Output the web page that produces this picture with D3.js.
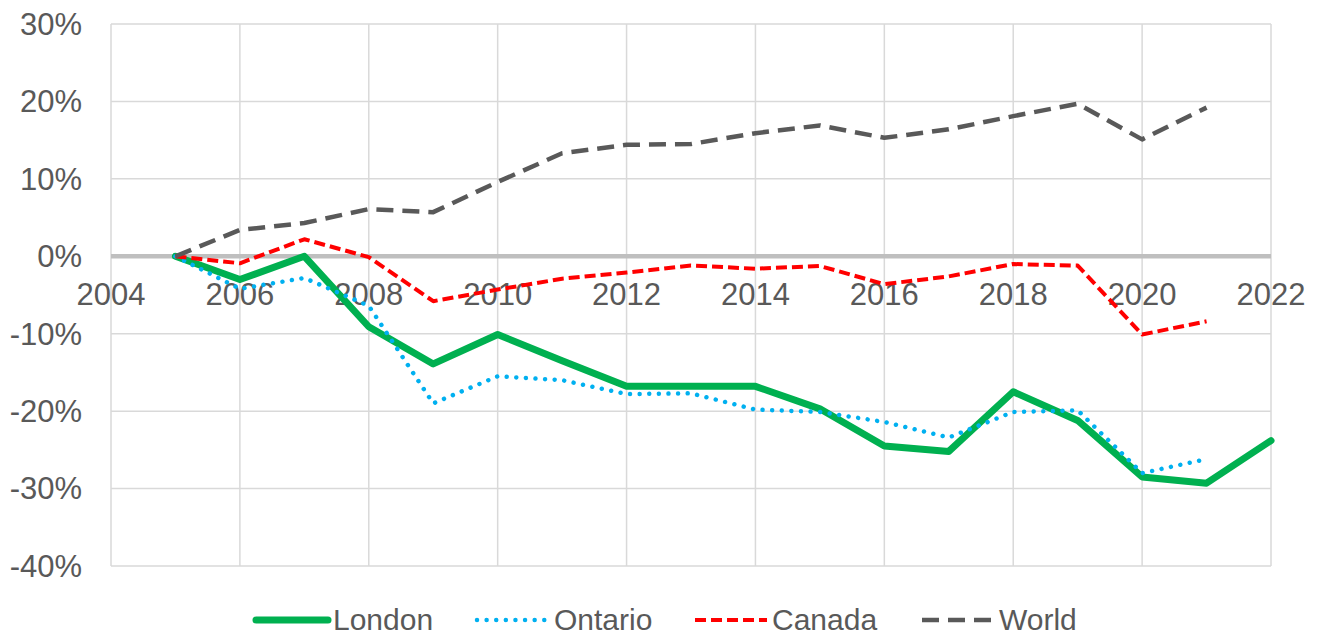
<!DOCTYPE html>
<html>
<head>
<meta charset="utf-8">
<script src="https://cdn.jsdelivr.net/npm/d3@7"></script>
<style>
  body { margin: 0; background: #fff; }
  text { font-family: "Liberation Sans", Arial, sans-serif; fill: #595959; }
</style>
</head>
<body>
<div id="chart"></div>
<script>
// yearly change vs 2005
const years = [2005, 2006, 2007, 2008, 2009, 2010, 2011, 2012, 2013, 2014, 2015, 2016, 2017, 2018, 2019, 2020, 2021, 2022];
const london  = [0, -3.0, 0, -9.1, -13.9, -10.1, -13.5, -16.8, -16.8, -16.8, -19.7, -24.5, -25.2, -17.5, -21.2, -28.5, -29.3, -23.8];
const ontario = [0, -4.2, -2.8, -6.4, -19.0, -15.5, -16.0, -17.8, -17.7, -19.8, -20.1, -21.4, -23.4, -20.1, -19.9, -28.0, -26.2];
const canada  = [0, -0.9, 2.2, -0.1, -5.8, -4.3, -2.9, -2.1, -1.2, -1.6, -1.25, -3.6, -2.6, -1.0, -1.2, -10.1, -8.4];
const world   = [0, 3.4, 4.3, 6.1, 5.7, 9.6, 13.3, 14.4, 14.5, 15.9, 16.9, 15.3, 16.4, 18.1, 19.7, 15.1, 19.2];

const xTicks = [2004, 2006, 2008, 2010, 2012, 2014, 2016, 2018, 2020, 2022];
const yTicks = [30, 20, 10, 0, -10, -20, -30, -40];

const series = [
  { name: "London",  values: london,  color: "#00B050", width: 7,   dash: null,       cap: "round" },
  { name: "Ontario", values: ontario, color: "#00B0F0", width: 4.5, dash: "0.01,9.6", cap: "round" },
  { name: "Canada",  values: canada,  color: "#FF0000", width: 4,   dash: "11,5",     cap: "butt" },
  { name: "World",   values: world,   color: "#595959", width: 4.5, dash: "17,9",     cap: "butt" }
];

const W = 1319, H = 637;
const svg = d3.select("#chart").append("svg").attr("width", W).attr("height", H);

const x = d3.scaleLinear().domain([2004, 2022]).range([111, 1271]);
const y = d3.scaleLinear().domain([-40, 30]).range([566, 24]);

// gridlines
svg.append("g").selectAll("line").data(yTicks).join("line")
  .attr("x1", x(2004)).attr("x2", x(2022))
  .attr("y1", d => y(d)).attr("y2", d => y(d))
  .attr("stroke", "#D9D9D9").attr("stroke-width", 1.5);

svg.append("g").selectAll("line").data(xTicks).join("line")
  .attr("x1", d => x(d)).attr("x2", d => x(d))
  .attr("y1", y(30)).attr("y2", y(-40))
  .attr("stroke", "#D9D9D9").attr("stroke-width", 1.5);

// zero axis line
svg.append("line")
  .attr("x1", x(2004)).attr("x2", x(2022))
  .attr("y1", y(0)).attr("y2", y(0))
  .attr("stroke", "#BFBFBF").attr("stroke-width", 4.5);

// y labels
svg.append("g").selectAll("text").data(yTicks).join("text")
  .attr("x", 82).attr("y", d => y(d))
  .attr("dy", "0.35em")
  .attr("text-anchor", "end")
  .attr("font-size", 31)
  .text(d => d + "%");

// x labels sit under the zero line
svg.append("g").selectAll("text").data(xTicks).join("text")
  .attr("x", d => x(d)).attr("y", y(0) + 49)
  .attr("text-anchor", "middle")
  .attr("font-size", 31)
  .text(d => d);

const line = d3.line()
  .x((d, i) => x(years[i]))
  .y(d => y(d));

series.forEach(s => {
  svg.append("path")
    .datum(s.values)
    .attr("fill", "none")
    .attr("stroke", s.color)
    .attr("stroke-width", s.width)
    .attr("stroke-linejoin", "round")
    .attr("stroke-linecap", s.cap)
    .attr("stroke-dasharray", s.dash)
    .attr("d", line);
});

// legend
const legendX = [256, 477, 695, 922];
const legend = svg.append("g").selectAll("g").data(series).join("g")
  .attr("transform", (d, i) => `translate(${legendX[i]},620)`);

legend.append("line")
  .attr("x1", 0).attr("x2", 72)
  .attr("stroke", d => d.color)
  .attr("stroke-width", d => d.width)
  .attr("stroke-linecap", d => d.cap)
  .attr("stroke-dasharray", d => d.dash);

legend.append("text")
  .attr("x", 77).attr("y", 10)
  .attr("font-size", 30)
  .text(d => d.name);
</script>
</body>
</html>
